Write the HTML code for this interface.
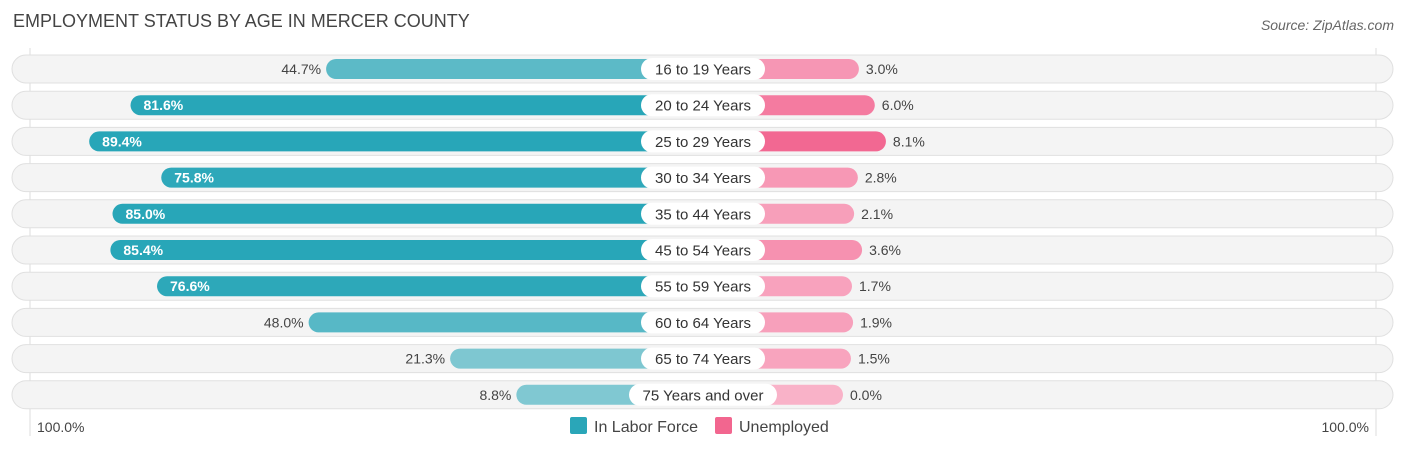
<!DOCTYPE html>
<html><head><meta charset="utf-8"><style>
body{margin:0;width:1406px;height:451px;background:#fff;font-family:"Liberation Sans",sans-serif;position:relative;overflow:hidden}
.t{position:absolute;left:13px;top:11px;font-size:18px;color:#444}
.src{position:absolute;right:12px;top:17px;font-size:14px;color:#666;font-style:italic}
</style></head><body>
<div class="t">EMPLOYMENT STATUS BY AGE IN MERCER COUNTY</div>
<div class="src">Source: ZipAtlas.com</div>
<svg id="c" width="1406" height="451" style="position:absolute;left:0;top:0"></svg>
<script>
const categories=["16 to 19 Years","20 to 24 Years","25 to 29 Years","30 to 34 Years","35 to 44 Years","45 to 54 Years","55 to 59 Years","60 to 64 Years","65 to 74 Years","75 Years and over"];
const laborForce=[44.7,81.6,89.4,75.8,85.0,85.4,76.6,48.0,21.3,8.8];
const unemployed=[3.0,6.0,8.1,2.8,2.1,3.6,1.7,1.9,1.5,0.0];
const axisLabels=["100.0%","100.0%"];
const svg=document.getElementById('c');const NS="http://www.w3.org/2000/svg";
const cx=703,off=140,sc=5.3,y0=69,dy=36.2;
function mk(t,a,p){const e=document.createElementNS(NS,t);for(const k in a)e.setAttribute(k,a[k]);(p||svg).appendChild(e);return e;}
const xl=v=>cx-off-v*sc, xr=v=>cx+off+v*sc*5.3/5.3;
mk('line',{x1:30,y1:48,x2:30,y2:436,stroke:'#ddd'});
mk('line',{x1:1376,y1:48,x2:1376,y2:436,stroke:'#ddd'});
function mix(a,b,t){return 'rgb('+a.map((v,i)=>Math.round(v+(b[i]-v)*t)).join(',')+')';}
categories.forEach((c,i)=>{
 const y=y0+i*dy;
 const g=mk('g',{});
 
 mk('rect',{x:12,y:y-14,width:1381,height:28,rx:14,fill:'#f4f4f4',stroke:'#e0e0e0'},g);
 const lv=laborForce[i],uv=unemployed[i];
 const lc=mix([128,200,210],[40,166,184],Math.min(1,Math.max(0,(lv-20)/60)));
 const b=mk('rect',{x:xl(lv),y:y-10,width:cx-xl(lv),height:20,rx:10,fill:lc},g);
 
 const uc=mix([249,178,200],[242,104,146],Math.min(1,uv/8));
 const ub=mk('rect',{x:cx,y:y-10,width:off+uv*sc,height:20,rx:10,fill:uc},g);
 
 const inside=lv>60;
 const lt=mk('text',{x:inside?xl(lv)+13:xl(lv)-5,y:y+5,'font-size':14,fill:inside?'#fff':'#444','text-anchor':inside?'start':'end','font-weight':inside?'bold':'normal'},g);
 lt.textContent=lv.toFixed(1)+'%';
 const ut=mk('text',{x:cx+off+uv*sc+7,y:y+5,'font-size':14,fill:'#444'},g);ut.textContent=uv.toFixed(1)+'%';
 const w=c.length>14?148:124;
 mk('rect',{x:cx-w/2,y:y-11,width:w,height:22,rx:11,fill:'#fff'},g);
 const ct=mk('text',{x:cx,y:y+5.5,'font-size':15,fill:'#333','text-anchor':'middle'},g);ct.textContent=c;
});
const a1=mk('text',{x:37,y:432,'font-size':14,fill:'#444'});a1.textContent=axisLabels[0];
const a2=mk('text',{x:1369,y:432,'font-size':14,fill:'#444','text-anchor':'end'});a2.textContent=axisLabels[1];
const l1=mk('rect',{x:570,y:417,width:17,height:17,rx:2,fill:'#2aa6b8'});
const t1=mk('text',{x:594,y:432,'font-size':16,fill:'#444'});t1.textContent='In Labor Force';
const l2=mk('rect',{x:715,y:417,width:17,height:17,rx:2,fill:'#f2668f'});
const t2=mk('text',{x:739,y:432,'font-size':16,fill:'#444'});t2.textContent='Unemployed';
</script>
</body></html>
